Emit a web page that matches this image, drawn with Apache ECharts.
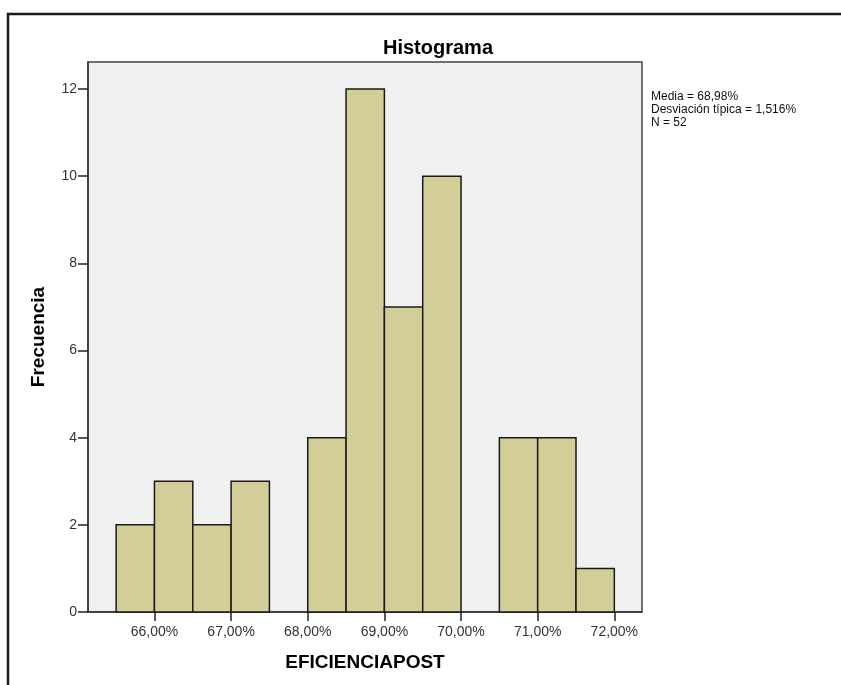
<!DOCTYPE html>
<html>
<head>
<meta charset="utf-8">
<script src="https://cdn.jsdelivr.net/npm/echarts@6/dist/echarts.min.js"></script>
<style>html,body{margin:0;padding:0;background:#fff}#c{width:841px;height:685px}</style>
</head>
<body>
<div id="c"></div>
<script>
// Bin lower edges (%), bin width 0.5%
const binStarts = [65.5, 66.0, 66.5, 67.0, 67.5, 68.0, 68.5, 69.0, 69.5, 70.0, 70.5, 71.0, 71.5];
const counts    = [2,    3,    2,    3,    0,    4,    12,   7,    10,   0,    4,    4,    1];
const binWidth = 0.5;
const xTicks = [66, 67, 68, 69, 70, 71, 72];
const yTicks = [0, 2, 4, 6, 8, 10, 12];
const statsLines = ['Media = 68,98%', 'Desviación típica = 1,516%', 'N = 52'];

const data = binStarts.map((s, i) => [s, s + binWidth, counts[i]]);
const FF = 'Liberation Sans, Arial, sans-serif';

const chart = echarts.init(document.getElementById('c'), null, {renderer: 'canvas'});
chart.setOption({
  animation: false,
  backgroundColor: '#ffffff',
  title: {
    text: 'Histograma', left: 433, top: 33, textAlign: 'center',
    textStyle: {fontFamily: FF, fontSize: 20, fontWeight: 'bold', color: '#000'}
  },
  graphic: [
    {type: 'rect', shape: {x: 8, y: 14, width: 900, height: 700}, style: {fill: 'none', stroke: '#1a1a1a', lineWidth: 2.5}, silent: true},
    {type: 'text', left: 651, top: 90, style: {text: statsLines.join('\n'), fontFamily: FF, fontSize: 12, lineHeight: 13, fill: '#111'}}
  ],
  grid: {
    left: 88, top: 62, right: 199, bottom: 73,
    show: true, backgroundColor: '#f0f0f0', borderColor: '#444', borderWidth: 1.5
  },
  xAxis: {
    type: 'value', min: 65.133, max: 72.361,
    name: 'EFICIENCIAPOST', nameLocation: 'middle', nameGap: 41,
    nameTextStyle: {fontFamily: FF, fontSize: 19, fontWeight: 'bold', color: '#000'},
    axisLine: {show: true, onZero: false, lineStyle: {color: '#333', width: 1.5}},
    axisTick: {show: true, customValues: xTicks, length: 9, lineStyle: {color: '#222', width: 1.5}},
    axisLabel: {customValues: xTicks, margin: 13, fontFamily: FF, fontSize: 14, color: '#333',
      formatter: v => v.toFixed(2).replace('.', ',') + '%'},
    splitLine: {show: false}
  },
  yAxis: {
    type: 'value', min: 0, max: 12.62,
    name: 'Frecuencia', nameLocation: 'middle', nameGap: 40,
    nameTextStyle: {fontFamily: FF, fontSize: 19, fontWeight: 'bold', color: '#000'},
    axisLine: {show: true, lineStyle: {color: '#333', width: 1.5}},
    axisTick: {show: true, customValues: yTicks, length: 10, lineStyle: {color: '#222', width: 1.5}},
    axisLabel: {customValues: yTicks, margin: 11, fontFamily: FF, fontSize: 14, color: '#333'},
    splitLine: {show: false}
  },
  series: [{
    type: 'custom',
    data: data,
    encode: {x: [0, 1], y: 2},
    renderItem: function (params, api) {
      const c = api.value(2);
      if (!c) return null;
      const p0 = api.coord([api.value(0), 0]);
      const p1 = api.coord([api.value(1), c]);
      return {
        type: 'rect',
        shape: {x: p0[0], y: p1[1], width: p1[0] - p0[0], height: p0[1] - p1[1]},
        style: {fill: '#d3ce97', stroke: '#1a1a1a', lineWidth: 1.5}
      };
    }
  }]
});
</script>
</body>
</html>
